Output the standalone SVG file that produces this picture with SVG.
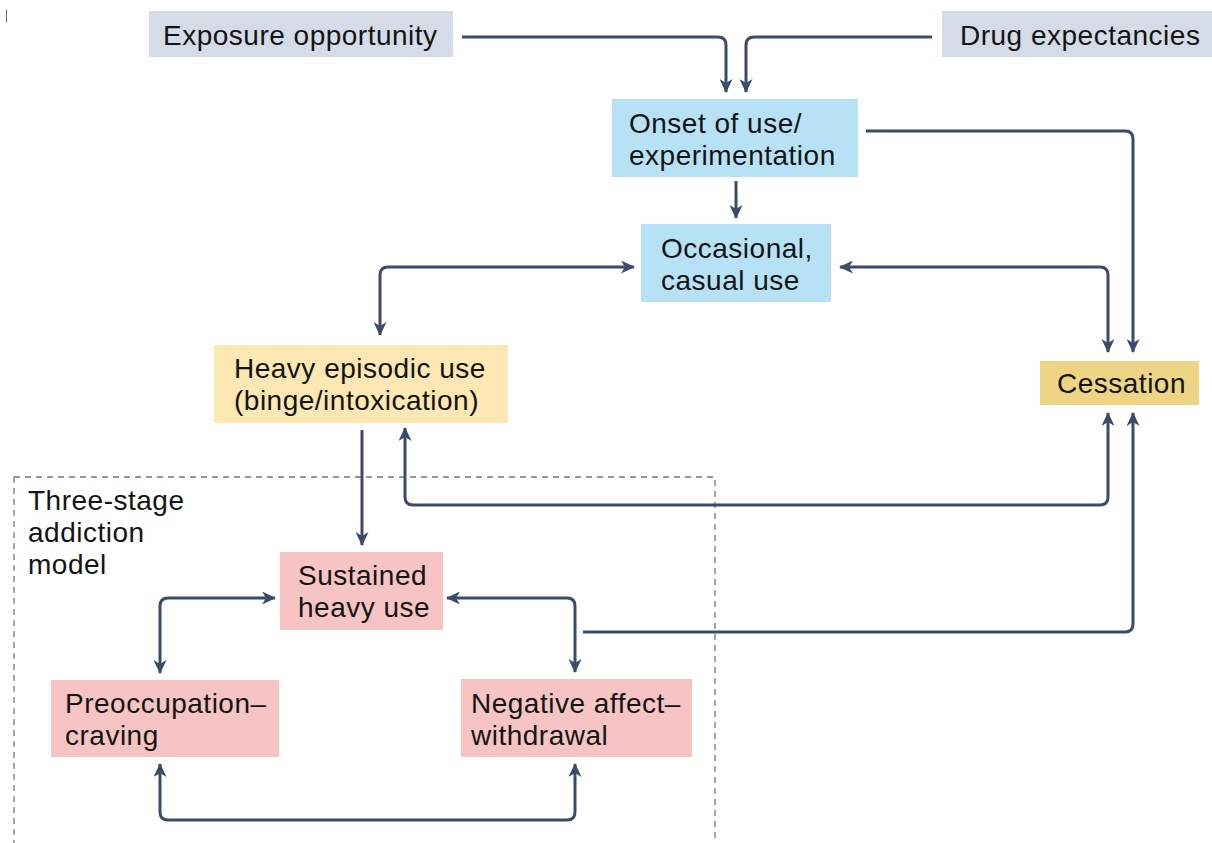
<svg xmlns="http://www.w3.org/2000/svg" width="1212" height="843" viewBox="0 0 1212 843">
<style>
text{font-family:"Liberation Sans",Arial,sans-serif;font-size:28px;letter-spacing:0.5px;fill:#141414}
.grey{fill:#d6dce7}
.blue{fill:#b7e2f6}
.yel{fill:#fde7b3}
.gold{fill:#edd585}
.pink{fill:#f6c5c3}
.c{fill:none;stroke:#3e4b68;stroke-width:3;marker-end:url(#ah)}
.d{marker-start:url(#ah)}
</style>
<defs>
<marker id="ah" viewBox="0 0 14 13" refX="13" refY="6.5" markerWidth="14" markerHeight="13" markerUnits="userSpaceOnUse" orient="auto-start-reverse">
<path d="M0,0 L14,6.5 L0,13 L4,6.5 z" fill="#3e4b68"/>
</marker>
</defs>
<rect width="1212" height="843" fill="#fff"/>
<line x1="6.5" y1="10" x2="6.5" y2="22" stroke="#666" stroke-width="1"/>
<g id="frame">
<rect x="14" y="477" width="701" height="380" fill="none" stroke="#777" stroke-width="1.3" stroke-dasharray="6,5"/>
<text x="28" y="510"><tspan x="28" y="510">Three-stage</tspan><tspan x="28" y="542">addiction</tspan><tspan x="28" y="574">model</tspan></text>
</g>
<g id="connectors">
<path class="c" d="M462,37 H718 Q726,37 726,45 V92"/>
<path class="c" d="M932,37 H754 Q746,37 746,45 V92"/>
<path class="c" d="M866,131 H1125 Q1133,131 1133,139 V352"/>
<path class="c" d="M736,181 V218"/>
<path class="c d" d="M634,267 H388 Q380,267 380,275 V335"/>
<path class="c d" d="M840,267 H1100 Q1108,267 1108,275 V352"/>
<path class="c" d="M362,430 V545"/>
<path class="c d" d="M405,428 V497 Q405,505 413,505 H1100 Q1108,505 1108,497 V413"/>
<path class="c" d="M583,632 H1125 Q1133,632 1133,624 V413"/>
<path class="c d" d="M275,598 H168 Q160,598 160,606 V673"/>
<path class="c d" d="M447,598 H567 Q575,598 575,606 V672"/>
<path class="c d" d="M160,764 V812 Q160,820 168,820 H567 Q575,820 575,812 V764"/>
</g>
<g id="exposure">
<rect class="grey" x="149" y="11" width="304" height="46"/>
<text x="163" y="45">Exposure opportunity</text>
</g>
<g id="drug">
<rect class="grey" x="942" y="11" width="270" height="46"/>
<text x="960" y="45">Drug expectancies</text>
</g>
<g id="onset">
<rect class="blue" x="612" y="99" width="246" height="78"/>
<text x="629" y="133"><tspan x="629" y="133">Onset of use/</tspan><tspan x="629" y="165">experimentation</tspan></text>
</g>
<g id="occasional">
<rect class="blue" x="641" y="224" width="190" height="78"/>
<text x="661" y="258"><tspan x="661" y="258">Occasional,</tspan><tspan x="661" y="290">casual use</tspan></text>
</g>
<g id="heavy">
<rect class="yel" x="214" y="345" width="294" height="78"/>
<text x="234" y="378"><tspan x="234" y="378">Heavy episodic use</tspan><tspan x="234" y="410">(binge/intoxication)</tspan></text>
</g>
<g id="cessation">
<rect class="gold" x="1040" y="361" width="159" height="44"/>
<text x="1057" y="393">Cessation</text>
</g>
<g id="sustained">
<rect class="pink" x="280" y="552" width="163" height="78"/>
<text x="298" y="585"><tspan x="298" y="585">Sustained</tspan><tspan x="298" y="617">heavy use</tspan></text>
</g>
<g id="preoccupation">
<rect class="pink" x="51" y="680" width="228" height="77"/>
<text x="65" y="713"><tspan x="65" y="713">Preoccupation–</tspan><tspan x="65" y="745">craving</tspan></text>
</g>
<g id="negative">
<rect class="pink" x="461" y="679" width="231" height="78"/>
<text x="471" y="713"><tspan x="471" y="713">Negative affect–</tspan><tspan x="471" y="745">withdrawal</tspan></text>
</g>
</svg>
